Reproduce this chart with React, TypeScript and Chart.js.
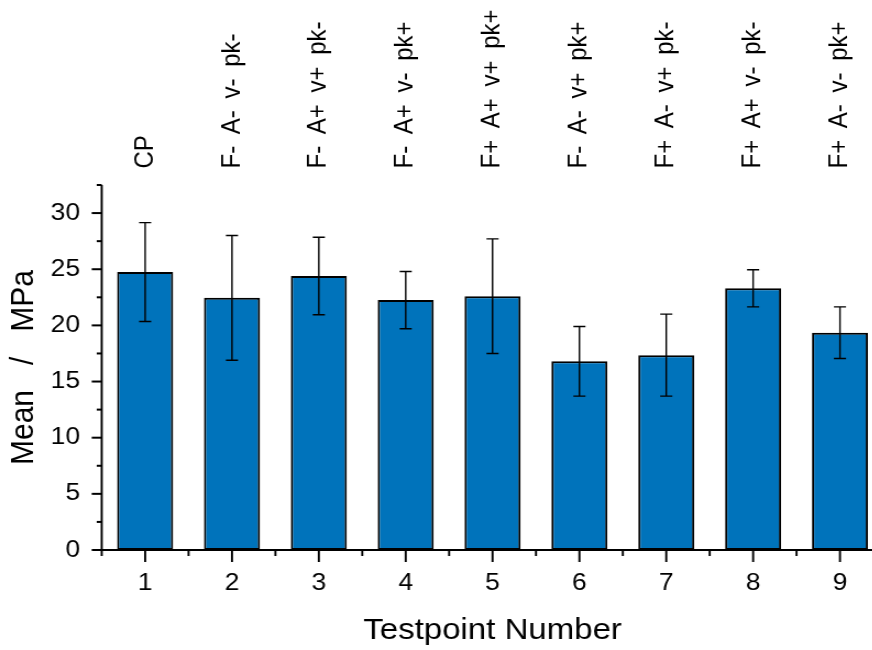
import { useEffect, useRef } from 'react';
import { Chart, registerables } from 'chart.js';

Chart.register(...registerables);

// ---- data ----
const categories = ['1', '2', '3', '4', '5', '6', '7', '8', '9'];
const groupLabels = [
  'CP',
  'F- A- v- pk-',
  'F- A+ v+ pk-',
  'F- A+ v- pk+',
  'F+ A+ v+ pk+',
  'F- A- v+ pk+',
  'F+ A- v+ pk-',
  'F+ A+ v- pk-',
  'F+ A- v- pk+',
];
const means = [24.75, 22.45, 24.4, 22.25, 22.6, 16.8, 17.35, 23.3, 19.35];
const errors = [4.4, 5.55, 3.45, 2.55, 5.1, 3.1, 3.65, 1.65, 2.3];
const yMajorTicks = [0, 5, 10, 15, 20, 25, 30];
const yMinorTicks = [2.5, 7.5, 12.5, 17.5, 22.5, 27.5, 32.5];
const yMin = 0;
const yMax = 32.5;

// ---- layout / style ----
const STRETCH = 1.1;
const CANVAS_W = 810;
const CANVAS_H = 650;
const FONT = 'Arial, "Liberation Sans", sans-serif';
const BAR_COLOR = '#0073BB';

const decorPlugin = {
  id: 'decor',
  afterDatasetsDraw(chart: any) {
    const { ctx, chartArea, scales } = chart;
    const x = scales.x;
    const y = scales.y;
    const meta = chart.getDatasetMeta(0);
    ctx.save();

    // error bars
    ctx.strokeStyle = '#000';
    ctx.lineWidth = 1.4;
    const hw = 5.5;
    meta.data.forEach((el: any, i: number) => {
      const cx = el.x;
      const yt = y.getPixelForValue(means[i] + errors[i]);
      const yb = y.getPixelForValue(means[i] - errors[i]);
      ctx.beginPath();
      ctx.moveTo(cx, yt);
      ctx.lineTo(cx, yb);
      ctx.moveTo(cx - hw, yt);
      ctx.lineTo(cx + hw, yt);
      ctx.moveTo(cx - hw, yb);
      ctx.lineTo(cx + hw, yb);
      ctx.stroke();
    });

    // axis lines
    const left = chartArea.left;
    const bottom = chartArea.bottom;
    const top = y.getPixelForValue(yMax);
    const right = x.getPixelForValue(categories.length - 0.5);
    ctx.lineWidth = 1.9;
    ctx.beginPath();
    ctx.moveTo(left, top);
    ctx.lineTo(left, bottom + 1);
    ctx.stroke();
    ctx.lineWidth = 2;
    ctx.beginPath();
    ctx.moveTo(left - 1, bottom);
    ctx.lineTo(right + 10, bottom);
    ctx.stroke();

    // y ticks
    ctx.lineWidth = 2;
    yMajorTicks.forEach((v) => {
      const py = y.getPixelForValue(v);
      ctx.beginPath();
      ctx.moveTo(left, py);
      ctx.lineTo(left - 10 / STRETCH, py);
      ctx.stroke();
    });
    yMinorTicks.forEach((v) => {
      const py = y.getPixelForValue(v);
      ctx.beginPath();
      ctx.moveTo(left, py);
      ctx.lineTo(left - 5 / STRETCH, py);
      ctx.stroke();
    });

    // x ticks
    ctx.lineWidth = 1.9;
    categories.forEach((_, i) => {
      const px = x.getPixelForValue(i);
      ctx.beginPath();
      ctx.moveTo(px, bottom);
      ctx.lineTo(px, bottom + 12);
      ctx.stroke();
    });
    for (let i = 0; i <= categories.length; i++) {
      const px = x.getPixelForValue(i - 0.5);
      ctx.beginPath();
      ctx.moveTo(px, bottom);
      ctx.lineTo(px, bottom + 6);
      ctx.stroke();
    }

    // rotated group labels above the bars
    ctx.fillStyle = '#000';
    ctx.font = `24px ${FONT}`;
    ctx.textAlign = 'left';
    ctx.textBaseline = 'middle';
    try {
      (ctx as any).wordSpacing = '5px';
    } catch (e) {
      /* ignore */
    }
    groupLabels.forEach((lab, i) => {
      const px = x.getPixelForValue(i);
      ctx.save();
      ctx.translate(px, 168.5);
      ctx.rotate(-Math.PI / 2);
      ctx.fillText(lab, 0, 0);
      ctx.restore();
    });

    ctx.restore();
  },
};

export default function App() {
  const canvasRef = useRef<HTMLCanvasElement | null>(null);

  useEffect(() => {
    if (!canvasRef.current) return;
    const chart = new Chart(canvasRef.current, {
      type: 'bar',
      data: {
        labels: categories,
        datasets: [
          {
            data: means,
            backgroundColor: BAR_COLOR,
            borderColor: '#000',
            borderWidth: 2,
            borderSkipped: false,
            barPercentage: 0.645,
            categoryPercentage: 1,
          },
        ],
      },
      options: {
        responsive: false,
        animation: false,
        devicePixelRatio: 1,
        layout: {
          padding: {
            top: 185,
            left: 0,
            right: CANVAS_W - 883.4 / STRETCH,
            bottom: 0,
          },
        },
        plugins: {
          legend: { display: false },
          tooltip: { enabled: false },
          title: { display: false },
        },
        scales: {
          x: {
            type: 'category',
            offset: true,
            grid: { display: false, drawTicks: false },
            border: { display: false },
            ticks: {
              color: '#000',
              font: { family: FONT, size: 24 },
              padding: 18.6,
              maxRotation: 0,
              autoSkip: false,
            },
            title: {
              display: true,
              text: 'Testpoint Number',
              color: '#000',
              font: { family: FONT, size: 30 },
              padding: { top: 0, bottom: 1.3 },
            },
            afterFit: (s: any) => {
              s.height = 100;
            },
          },
          y: {
            min: yMin,
            max: yMax,
            grid: { display: false, drawTicks: false },
            border: { display: false },
            ticks: {
              stepSize: 5,
              includeBounds: false,
              color: '#000',
              font: { family: FONT, size: 24 },
              padding: 19.7,
              callback: (v: any) => (yMajorTicks.includes(Number(v)) ? String(v) : ''),
            },
            title: {
              display: true,
              text: 'Mean   /   MPa',
              color: '#000',
              font: { family: FONT, size: 30 },
              padding: { top: 3.5, bottom: 0 },
            },
            afterFit: (s: any) => {
              s.width = 101.7 / STRETCH;
            },
          },
        },
      },
      plugins: [decorPlugin],
    } as any);
    return () => chart.destroy();
  }, []);

  return (
    <div
      style={{
        position: 'absolute',
        left: 0,
        top: 0,
        width: '872px',
        height: '650px',
        overflow: 'hidden',
        background: '#fff',
      }}
    >
      <canvas
        ref={canvasRef}
        width={CANVAS_W}
        height={CANVAS_H}
        style={{ width: `${CANVAS_W * STRETCH}px`, height: `${CANVAS_H}px`, display: 'block' }}
      />
    </div>
  );
}
